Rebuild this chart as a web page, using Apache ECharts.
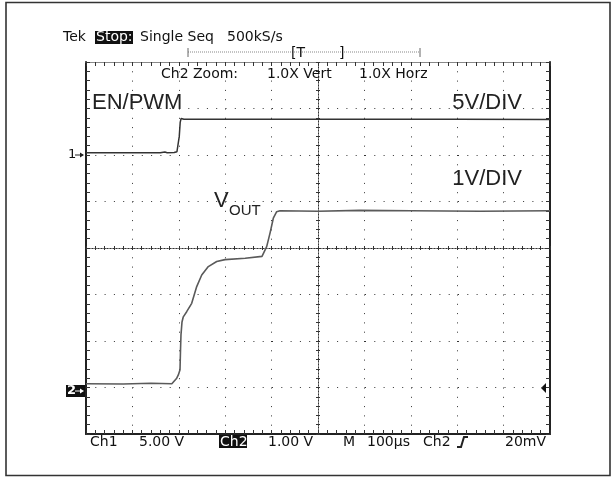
<!DOCTYPE html>
<html><head><meta charset="utf-8">
<script src="https://cdn.jsdelivr.net/npm/echarts@6/dist/echarts.min.js"></script>
<style>html,body{margin:0;padding:0;background:#fff}#c{width:612px;height:478px}</style>
</head><body><div id="c"></div>
<script>
// Time in microseconds relative to the screen centre (100 us/div)
const enTime   = [-500,-340,-330,-325,-310,-304,-301,-299,-297,-295,-292,-289,-200,-197,-194,-100,-97,-94,100,300,500];
const enVolts  = [0.25,0.25,0.32,0.25,0.27,0.35,0.5,2.0,3.5,3.93,3.87,3.85,3.85,3.93,3.85,3.85,3.93,3.85,3.84,3.84,3.83];
const voutTime  = [-500,-420,-360,-315,-304.5,-301,-297.4,-296.3,-295.3,-293.1,-290.3,-283,-272.2,-261.4,-250.6,-236.4,-218.3,-200.4,-157,-120.7,-110.6,-103.4,-96.3,-89,-81.9,0,90,200,350,500];
const voutVolts = [0.08,0.075,0.09,0.08,0.20,0.27,0.38,0.81,1.13,1.41,1.52,1.63,1.81,2.17,2.42,2.60,2.71,2.75,2.78,2.82,3.03,3.32,3.64,3.78,3.80,3.79,3.81,3.80,3.79,3.80];
const ch1GroundDiv = 2, ch1VoltsPerDiv = 5;
const ch2GroundDiv = -3, ch2VoltsPerDiv = 1;
const xTicks = {min:-500, max:500, interval:100};
const yTicks = {min:-4, max:4, interval:1};

const enData = enTime.map((t,i)=>[t, ch1GroundDiv + enVolts[i]/ch1VoltsPerDiv]);
const voutData = voutTime.map((t,i)=>[t, ch2GroundDiv + voutVolts[i]/ch2VoltsPerDiv]);

const DOT = [1, 8.3];
function borderAxis(pos, color, width, split, isY){
  return {type:'value', min: isY?yTicks.min:xTicks.min, max: isY?yTicks.max:xTicks.max,
    interval: isY?yTicks.interval:xTicks.interval, position:pos,
    axisLine:{show:true,onZero:false,lineStyle:{color:color,width:width}},
    axisTick:{show:true,inside:true,length:4,lineStyle:{color:'#333',width:1}},
    minorTick:{show:true,splitNumber:5,length:4,lineStyle:{color:'#333',width:1}},
    axisLabel:{show:false},
    splitLine:{show:split,lineStyle:{color:'#333',width:1,type:DOT}},
    minorSplitLine:{show:false}};
}
function centerAxis(pos, isY){
  return {type:'value', min: isY?yTicks.min:xTicks.min, max: isY?yTicks.max:xTicks.max,
    interval: isY?yTicks.interval:xTicks.interval, position:pos,
    axisLine:{show:true,onZero:true,lineStyle:{color:'#333',width:1,type:[1,2]}},
    axisTick:{show:true,inside:true,length:2,lineStyle:{color:'#333',width:1}},
    minorTick:{show:true,splitNumber:5,length:2,lineStyle:{color:'#333',width:1}},
    axisLabel:{show:false}, splitLine:{show:false}};
}
const F = '14px "DejaVu Sans"';
function txt(text,x,y,font,fill,align){
  return {type:'text',silent:true,z:100,style:{text:text,x:x,y:y,font:font||F,fill:fill||'#111',align:align||'left',verticalAlign:'middle'}};
}
const chart = echarts.init(document.getElementById('c'), null, {renderer:'canvas'});
chart.setOption({
  animation:false,
  backgroundColor:'#fff',
  grid:{left:86,top:62,width:464,height:372,containLabel:false},
  xAxis:[borderAxis('bottom','#222',2,true,false), borderAxis('top','#888',1,false,false), centerAxis('bottom',false), centerAxis('top',false)],
  yAxis:[borderAxis('left','#222',2,true,true), borderAxis('right','#222',2,false,true), centerAxis('left',true), centerAxis('right',true)],
  series:[
    {name:'EN/PWM',type:'line',xAxisIndex:0,yAxisIndex:0,data:enData,showSymbol:false,lineStyle:{color:'#333',width:1.5},z:5},
    {name:'VOUT',type:'line',xAxisIndex:0,yAxisIndex:0,data:voutData,showSymbol:false,lineStyle:{color:'#5a5a5a',width:1.6},z:5}
  ],
  graphic:[
    {type:'rect',silent:true,shape:{x:6,y:2.5,width:604,height:473},style:{fill:'none',stroke:'#333',lineWidth:1.6}},
    txt('Tek',63,37),
    {type:'rect',silent:true,shape:{x:95,y:31,width:38,height:13},style:{fill:'#111'}},
    txt('Stop:',96,37,F,'#fff'),
    txt('Single Seq',140,37),
    txt('500kS/s',227,37),
    {type:'polyline',silent:true,shape:{points:[[188,52],[420,52]]},style:{stroke:'#888',lineWidth:1,lineDash:[1,1]}},
    {type:'line',silent:true,shape:{x1:188,y1:48,x2:188,y2:57},style:{stroke:'#666',lineWidth:1}},
    {type:'line',silent:true,shape:{x1:420,y1:48,x2:420,y2:57},style:{stroke:'#666',lineWidth:1}},
    txt('[T',291,53),
    txt(']',339,53),
    txt('Ch2 Zoom:',161,74),
    txt('1.0X Vert',267,74),
    txt('1.0X Horz',359,74),
    txt('EN/PWM',92,103,'22px "Liberation Sans"','#222'),
    txt('5V/DIV',522,103,'22px "Liberation Sans"','#222','right'),
    txt('1V/DIV',522,179,'22px "Liberation Sans"','#222','right'),
    txt('V',214,201,'22px "Liberation Sans"','#222'),
    txt('OUT',229,211,'15px "Liberation Sans"','#222'),
    txt('1',68,155,'13px "DejaVu Sans"'),
    {type:'line',silent:true,shape:{x1:75,y1:155,x2:83,y2:155},style:{stroke:'#222',lineWidth:1}},
    {type:'polygon',silent:true,shape:{points:[[84,155],[80,152.5],[80,157.5]]},style:{fill:'#222'}},
    {type:'rect',silent:true,shape:{x:66,y:385,width:19,height:12},style:{fill:'#111'}},
    txt('2',67,391,'bold 13px "DejaVu Sans"','#fff'),
    {type:'line',silent:true,shape:{x1:75,y1:391,x2:82,y2:391},style:{stroke:'#fff',lineWidth:1}},
    {type:'polygon',silent:true,shape:{points:[[84,391],[80,388.5],[80,393.5]]},style:{fill:'#fff'}},
    {type:'polygon',silent:true,shape:{points:[[541,388],[546,383],[546,393]]},style:{fill:'#111'}},
    txt('Ch1',90,442),
    txt('5.00 V',139,442),
    {type:'rect',silent:true,shape:{x:219,y:435,width:28,height:13},style:{fill:'#111'}},
    txt('Ch2',220,442,F,'#fff'),
    txt('1.00 V',268,442),
    txt('M',343,442),
    txt('100\u00b5s',367,442),
    txt('Ch2',423,442),
    {type:'polyline',silent:true,shape:{points:[[457,447],[461,447],[464,437],[468,437]]},style:{stroke:'#222',lineWidth:2}},
    txt('20mV',505,442)
  ]
});
</script>
</body></html>
